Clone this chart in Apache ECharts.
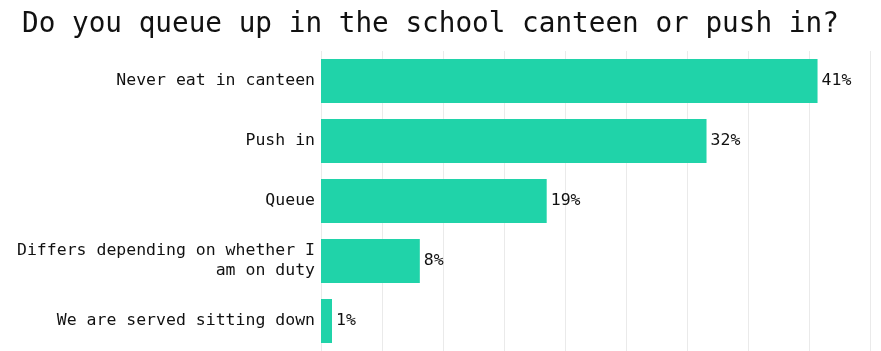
<!DOCTYPE html>
<html>
<head>
<meta charset="utf-8">
<script src="https://cdn.jsdelivr.net/npm/echarts@6/dist/echarts.min.js"></script>
<style>html,body{margin:0;padding:0;background:#fff;}#c{width:881px;height:351px;}</style>
</head>
<body>
<div id="c"></div>
<script>
const titleText = "Do you queue up in the school canteen or push in?";
const categories = [
  "Never eat in canteen",
  "Push in",
  "Queue",
  "Differs depending on whether I am on duty",
  "We are served sitting down"
];
const values = [40.7, 31.6, 18.5, 8.1, 0.9];
const xTicks = [0, 5, 10, 15, 20, 25, 30, 35, 40, 45];

const FONT = "DejaVu Sans Mono";
const chart = echarts.init(document.getElementById('c'), null, {renderer: 'canvas'});
chart.setOption({
  animation: false,
  backgroundColor: '#fff',
  title: {
    text: titleText,
    left: 17, top: 6,
    textStyle: {fontFamily: FONT, fontSize: 27.7, fontWeight: 'normal', color: '#111'}
  },
  grid: {left: 321, right: 11, top: 51, bottom: 0, containLabel: false},
  xAxis: {
    type: 'value',
    min: xTicks[0], max: xTicks[xTicks.length - 1], interval: xTicks[1] - xTicks[0],
    axisLabel: {show: false}, axisLine: {show: false}, axisTick: {show: false},
    splitLine: {show: true, lineStyle: {color: '#eaeaea', width: 1}}
  },
  yAxis: {
    type: 'category', inverse: true, data: categories,
    axisLine: {show: false}, axisTick: {show: false},
    axisLabel: {
      fontFamily: FONT, fontSize: 16.5, color: '#111', margin: 6,
      width: 300, overflow: 'break', lineHeight: 20, align: 'right'
    }
  },
  series: [{
    type: 'bar', data: values, barWidth: 44,
    itemStyle: {color: '#20d3a9'},
    label: {
      show: true, position: 'right', distance: 4,
      fontFamily: FONT, fontSize: 16.5, color: '#111',
      formatter: p => Math.round(p.value) + '%'
    }
  }]
});
</script>
</body>
</html>
